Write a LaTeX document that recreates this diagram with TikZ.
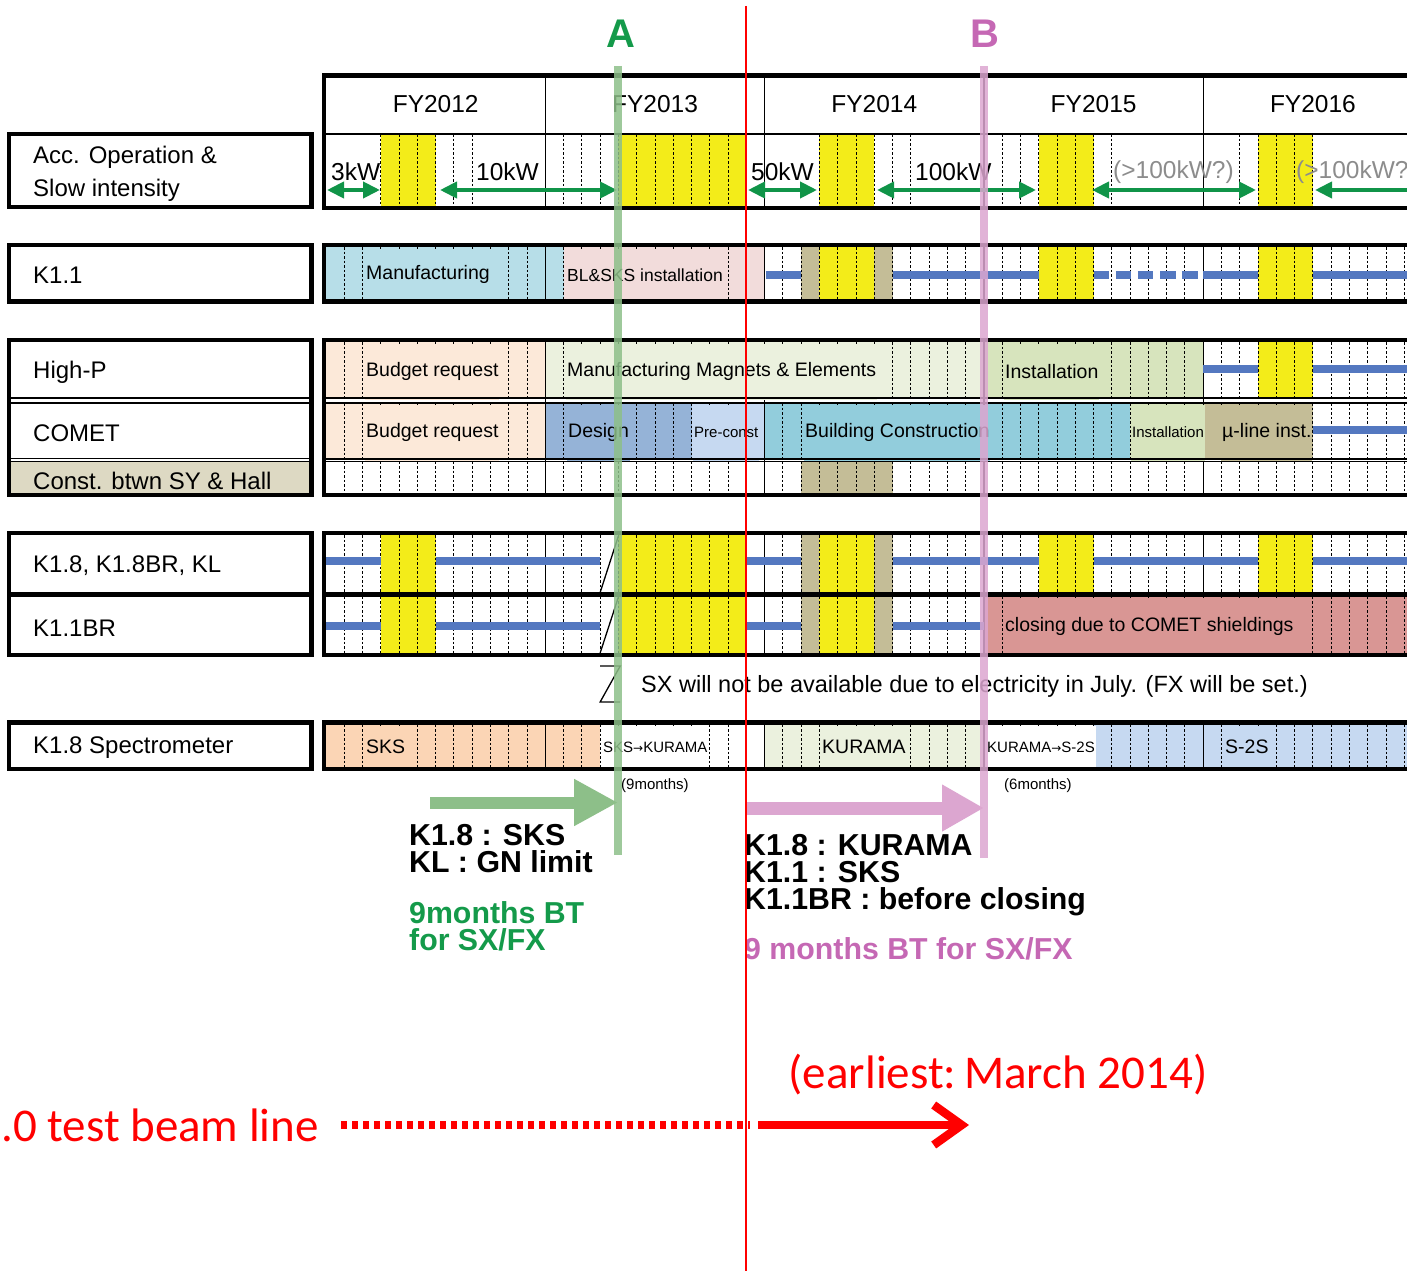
\documentclass[tikz,border=0pt]{standalone}
\usepackage{fontspec}
\setmainfont{Liberation Sans}
\newfontfamily\redfont{Carlito}
\newfontfamily\symfont{DejaVu Sans}
\usetikzlibrary{arrows.meta, positioning}

\definecolor{runyellow}{RGB}{243,236,25}
\definecolor{shutkhaki}{RGB}{196,189,151}
\definecolor{beamblue}{RGB}{84,120,192}
\definecolor{powgreen}{RGB}{16,148,72}
\definecolor{manublue}{RGB}{183,222,232}
\definecolor{instpink}{RGB}{242,220,219}
\definecolor{budgetbeige}{RGB}{252,233,217}
\definecolor{magpale}{RGB}{235,241,222}
\definecolor{instgreen}{RGB}{215,228,189}
\definecolor{designblue}{RGB}{149,179,215}
\definecolor{preblue}{RGB}{198,217,241}
\definecolor{buildcyan}{RGB}{146,205,220}
\definecolor{closered}{RGB}{217,150,148}
\definecolor{sksorange}{RGB}{251,213,181}
\definecolor{constgray}{RGB}{221,217,195}
\definecolor{lineA}{RGB}{141,191,137}
\definecolor{lineB}{RGB}{220,166,208}
\definecolor{textA}{RGB}{20,154,74}
\definecolor{textB}{RGB}{197,104,180}

\newcommand{\chartfont}{\fontsize{19.5}{22}\selectfont}
\newcommand{\midfont}{\fontsize{17.5}{20}\selectfont}
\newcommand{\smallfont}{\fontsize{15}{18}\selectfont}
\newcommand{\kwfont}{\fontsize{24.5}{28}\selectfont}
\newcommand{\rowfont}{\fontsize{24}{33}\selectfont}
\newcommand{\notefont}{\fontsize{30.3}{27}\selectfont\bfseries}
\newcommand{\goesto}{{\symfont\fontsize{12}{12}\selectfont →}}

\begin{document}
\begin{tikzpicture}[x=1pt, y=-1pt,
    frame/.style={line width=4.5pt},
    sepline/.style={line width=1.2pt},
    monthdash/.style={line width=0.9pt, dash pattern=on 2.5pt off 2pt},
    yearline/.style={line width=1.2pt},
    beam/.style={beamblue, line width=8pt},
    power/.style={powgreen, line width=4pt, {Triangle[length=17pt,width=16pt]}-{Triangle[length=17pt,width=16pt]}},
    lbl/.style 2 args={anchor=west, fill=#1, minimum height=#2, inner xsep=1pt, inner ysep=0pt, font=\chartfont, yshift=-1.5pt},
    rowname/.style={anchor=west, inner sep=0pt, font=\rowfont, align=left, yshift=-2pt},
    kw/.style={font=\kwfont, anchor=west, inner sep=0pt, yshift=-2pt},
    note/.style={anchor=west, inner sep=0pt, align=left, font=\notefont}]
    \useasboundingbox (0,0) rectangle (1407,1271);

    % Chart body, one unit = one month from April 2012
    \begin{scope}[xshift=326pt, x=18.275pt]
        % Work blocks
        \fill[manublue] (0,247) rectangle (13,299.5);
        \fill[instpink] (13,247) rectangle (24,299.5);
        \fill[budgetbeige] (0,342) rectangle (12,398);
        \fill[magpale] (12,342) rectangle (36,398);
        \fill[instgreen] (36,342) rectangle (48,398);
        \fill[budgetbeige] (0,403) rectangle (12,459);
        \fill[designblue] (12,403) rectangle (20,459);
        \fill[preblue] (20,403) rectangle (24,459);
        \fill[buildcyan] (24,403) rectangle (44,459);
        \fill[instgreen] (44,403) rectangle (48,459);
        \fill[shutkhaki] (48,403) rectangle (54,459);
        \fill[shutkhaki] (26,461.5) rectangle (31,493);
        \fill[closered] (36,596.5) rectangle (60,653);
        \fill[sksorange] (0,724.5) rectangle (15,767);
        \fill[magpale] (24,724.5) rectangle (36,767);
        \fill[preblue] (42,724.5) rectangle (60,767);

        % Beam time and shutdowns
        \foreach \ma/\mb in {3/6,16/23,27/30,39/42,51/54} {
            \fill[runyellow] (\ma,134) rectangle (\mb,206);
            \fill[runyellow] (\ma,535) rectangle (\mb,592.5);
        }
        \foreach \ma/\mb in {27/30,39/42,51/54} \fill[runyellow] (\ma,247) rectangle (\mb,299.5);
        \fill[runyellow] (51,342) rectangle (54,398);
        \foreach \ma/\mb in {3/6,16/23,27/30} \fill[runyellow] (\ma,596.5) rectangle (\mb,653);
        \foreach \ya/\yb in {247/299.5,535/592.5,596.5/653} {
            \fill[shutkhaki] (26,\ya) rectangle (27,\yb);
            \fill[shutkhaki] (30,\ya) rectangle (31,\yb);
        }

        % Month grid
        \foreach \ma/\mb in {3/8,13/23,27/32,37/43,50/54}
            \foreach \m in {\ma,...,\mb} \draw[monthdash] (\m,134) -- (\m,206);
        \foreach \ya/\yb in {247/299.5,342/398,403/459,461.5/493,535/592.5,596.5/653,724.5/767}
            \foreach \m in {1,...,59} \draw[monthdash] (\m,\ya) -- (\m,\yb);
        \foreach \m in {12,24,36,48}
            \foreach \ya/\yb in {78/206,247/299.5,342/493,535/653,724.5/767}
                \draw[yearline] (\m,\ya) -- (\m,\yb);

        % Beam lines in use
        \foreach \ma/\mb in {24.07/26,31/39,48/51,54/60} \draw[beam] (\ma,275) -- (\mb,275);
        \draw[beam, dash pattern=on 15.5pt off 6.7pt] (42,275) -- (47.7,275);
        \foreach \ma/\mb in {48/51,54/60} \draw[beam] (\ma,369) -- (\mb,369);
        \draw[beam] (54,430) -- (60,430);
        \foreach \ma/\mb in {0/3,6/15,23/26,31/39,42/51,54/60} \draw[beam] (\ma,561) -- (\mb,561);
        \foreach \ma/\mb in {0/3,6/15,23/26,31/36} \draw[beam] (\ma,626) -- (\mb,626);

        % Break marks
        \draw[line width=1.3pt] (15,592.5) -- (16,536);
        \draw[line width=1.3pt] (15,653) -- (16,597);
        \draw[line width=1.3pt] (15,666) -- (16.1,666) -- (15,702) -- (16.1,702);
    \end{scope}

    % Years and power
    \foreach \yr [count=\i from 0] in {2012,...,2016}
        \node[font=\kwfont] (fy\yr) at ({435.7+219.3*\i},104) {FY\yr};
    \node[kw] (kw3) at (331,170) {3kW};
    \node[kw] (kw10) at (476,170) {10kW};
    \node[kw] (kw50) at (751,170) {50kW};
    \node[kw] (kw100) at (915,170) {100kW};
    \node[kw, text=black!45] (kwmore) at (1113,170) {(>100kW?)};
    \node[kw, text=black!45] (kwlast) at (1296,170) {(>100kW?)};
    \draw[power] (327,190) -- (380,190);
    \draw[power] (440,190) -- (617,190);
    \draw[power] (748,190) -- (817,190);
    \draw[power] (877,190) -- (1036,190);
    \draw[power] (1092,190) -- (1256,190);
    \draw[power] (1315,190) -- (1440,190);

    % Labels on the chart
    \node[lbl={manublue}{52pt}] (manu) at (365,273.25) {Manufacturing};
    \node[lbl={instpink}{52pt}, font=\midfont] (blsks) at (566,273.25) {BL\&SKS installation};
    \node[lbl={budgetbeige}{56pt}] (budhp) at (365,370) {Budget request};
    \node[lbl={magpale}{56pt}] (maghp) at (566,370) {Manufacturing Magnets \& Elements};
    \node[lbl={instgreen}{56pt}] (insthp) at (1004,370) {Installation};
    \node[lbl={budgetbeige}{56pt}] (budcm) at (365,431) {Budget request};
    \node[lbl={designblue}{56pt}] (design) at (567,431) {Design};
    \node[lbl={preblue}{56pt}, font=\smallfont] (precon) at (693,431) {Pre-const};
    \node[lbl={buildcyan}{56pt}] (build) at (804,431) {Building Construction};
    \node[lbl={instgreen}{56pt}, font=\smallfont] (instcm) at (1131,431) {Installation};
    \node[lbl={shutkhaki}{56pt}] (muline) at (1221,431) {µ-line inst.};
    \node[lbl={closered}{56pt}] (closing) at (1004,624.75) {closing due to COMET shieldings};
    \node[lbl={sksorange}{42pt}] (sks) at (365,745.75) {SKS};
    \node[lbl={white}{42pt}, font=\smallfont] (sks2kur) at (602,745.75) {SKS\goesto KURAMA};
    \node[lbl={magpale}{42pt}] (kurama) at (821,745.75) {KURAMA};
    \node[lbl={white}{42pt}, font=\smallfont] (kur2s2s) at (986,745.75) {KURAMA\goesto S-2S};
    \node[lbl={preblue}{42pt}] (s2s) at (1224,745.75) {S-2S};

    % Chart frames
    \draw[frame] (324,75.5) rectangle (1420,208);
    \draw[sepline] (326,134) -- (1420,134);
    \draw[frame] (324,245) rectangle (1420,301.5);
    \draw[frame] (324,340) rectangle (1420,495);
    \draw[sepline] (326,398) -- (1420,398) (326,403) -- (1420,403);
    \draw[sepline] (326,459) -- (1420,459) (326,461.5) -- (1420,461.5);
    \draw[frame] (324,533) rectangle (1420,655);
    \draw[frame] (326,594.5) -- (1420,594.5);
    \draw[frame] (324,722.5) rectangle (1420,769);

    % Row names
    \draw[frame] (9,134) rectangle (311.5,207);
    \node[rowname] (acc) at (33,171.5) {Acc. Operation \&\\Slow intensity};
    \draw[frame] (9,245) rectangle (311.5,301.5);
    \node[rowname] (k11) at (33,273) {K1.1};
    \fill[constgray] (11,461.5) rectangle (309.5,493);
    \draw[frame] (9,340) rectangle (311.5,495);
    \draw[sepline] (11,398) -- (309.5,398) (11,403) -- (309.5,403);
    \draw[sepline] (11,458.5) -- (309.5,458.5) (11,461.5) -- (309.5,461.5);
    \node[rowname] (highp) at (33,370) {High-P};
    \node[rowname] (comet) at (33,431) {COMET};
    \node[rowname] (const) at (33,479) {Const. btwn SY \& Hall};
    \draw[frame] (9,533) rectangle (311.5,655);
    \draw[frame] (11,594.5) -- (309.5,594.5);
    \node[rowname] (k18) at (33,564) {K1.8, K1.8BR, KL};
    \node[rowname] (k11br) at (33,626) {K1.1BR};
    \draw[frame] (9,722.5) rectangle (311.5,769);
    \node[rowname] (spec) at (33,746) {K1.8 Spectrometer};

    % Note on SX
    \node[anchor=west, inner sep=0pt, font=\fontsize{23.5}{26}\selectfont] (sxnote) at (641,686)
        {SX will not be available due to electricity in July. (FX will be set.)};

    % Plans A and B
    \node[font=\fontsize{40}{40}\selectfont\bfseries, text=textA] (labA) at (621,34) {A};
    \node[font=\fontsize{40}{40}\selectfont\bfseries, text=textB] (labB) at (985,34) {B};
    \coordinate (topA) at (618,66);
    \coordinate (botA) at (618,855);
    \coordinate (topB) at (984,66);
    \coordinate (botB) at (984,858);
    \draw[lineA, line width=12pt, -{Triangle[length=44pt,width=44pt]}] (430,802.5) -- (618,802.5);
    \draw[lineB, line width=13pt, -{Triangle[length=42pt,width=44pt]}] (746,808) -- (984,808);
    \draw[lineA, line width=8pt, opacity=0.85] (topA) -- (botA);
    \draw[lineB, line width=8pt, opacity=0.85] (topB) -- (botB);
    \node[anchor=west, inner sep=0pt, font=\smallfont] (monA) at (621,786) {(9months)};
    \node[anchor=west, inner sep=0pt, font=\smallfont] (monB) at (1004,786) {(6months)};

    \node[note] (noteA) at (409,849) {K1.8 : SKS\\KL : GN limit};
    \node[note, text=textA, font=\fontsize{30.3}{27}\selectfont\bfseries] (btA) at (409,926) {9months BT\\for SX/FX};
    \node[note] (noteB) at (744,875) {K1.8 : KURAMA\\K1.1 : SKS\\K1.1BR : before closing};
    \node[note, text=textB] (btB) at (744,949) {9 months BT for SX/FX};

    % Now line
    \draw[red, line width=1.5pt] (746,6) -- (746,1271);

    % Test beam line
    \node[anchor=east, inner sep=0pt, text=red, font=\redfont\fontsize{47}{50}\selectfont] (tbl) at (319,1125) {.0 test beam line};
    \node[inner sep=0pt, text=red, font=\redfont\fontsize{47}{50}\selectfont] (earliest) at (998,1075) {(earliest:\,March 2014)};
    \draw[red, line width=8.5pt, dash pattern=on 5.5pt off 5.5pt] (341,1125) -- (750,1125);
    \draw[red, line width=8.5pt, -{Straight Barb[length=28pt,width=40pt]}] (758,1125) -- (969,1125);
\end{tikzpicture}
\end{document}
